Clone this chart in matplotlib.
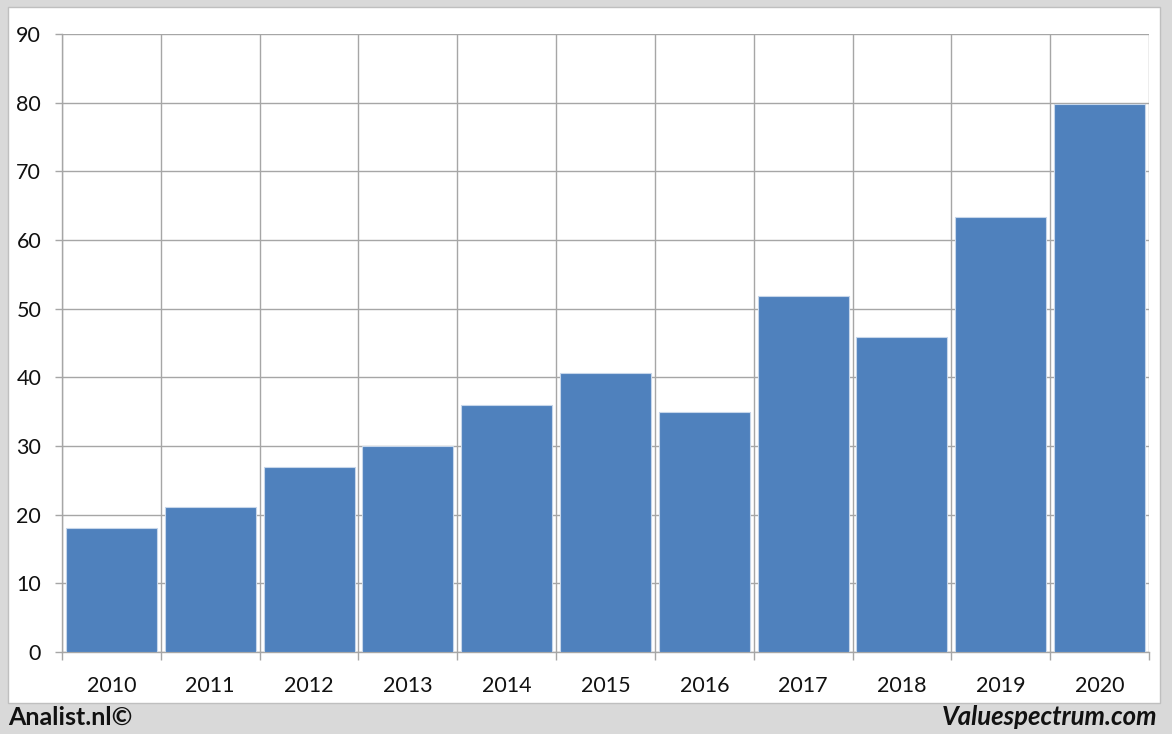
import matplotlib
matplotlib.use('Agg')
import matplotlib.pyplot as plt
import matplotlib.patches as patches
import numpy as np

years = ['2010', '2011', '2012', '2013', '2014', '2015', '2016', '2017', '2018', '2019', '2020']
values = [18.1, 21.1, 26.9, 30.0, 35.9, 40.6, 34.9, 51.9, 45.9, 63.4, 79.8]
y_ticks = [0, 10, 20, 30, 40, 50, 60, 70, 80, 90]

W, H = 1172, 734
fig = plt.figure(figsize=(W / 100, H / 100), dpi=100)
fig.patch.set_facecolor('#d9d9d9')

# white panel behind the chart
panel = patches.Rectangle((8 / W, 1 - 703 / H), (1160 - 8) / W, (703 - 7) / H,
                          transform=fig.transFigure, facecolor='white',
                          edgecolor='#bfbfbf', linewidth=1, zorder=-10)
fig.patches.append(panel)

# plot area (pixel coordinates)
left, right, top, bottom = 62, 1149, 34, 652
ax = fig.add_axes([left / W, 1 - bottom / H, (right - left) / W, (bottom - top) / H])
ax.set_facecolor('none')

x = np.arange(len(years))
ax.bar(x, values, width=0.92, color='#4f81bd', edgecolor='#c6d6ea', linewidth=0.8, zorder=3)

ax.set_xlim(-0.5, len(years) - 0.5)
ax.set_ylim(0, 90)
ax.set_yticks(y_ticks)
ax.set_xticks(x)
ax.set_xticklabels(years)
ax.set_xticks(np.arange(-0.5, len(years)), minor=True)

ax.grid(axis='y', which='major', color='#a6a6a6', linewidth=1, zorder=1)
ax.grid(axis='x', which='minor', color='#a6a6a6', linewidth=1, zorder=1)
ax.grid(axis='x', which='major', visible=False)

for s in ['top', 'right']:
    ax.spines[s].set_visible(False)
for s in ['left', 'bottom']:
    ax.spines[s].set_color('#a6a6a6')
    ax.spines[s].set_linewidth(1)

ax.tick_params(axis='x', which='major', length=0, pad=17, labelsize=15.5, labelcolor='#111111')
ax.tick_params(axis='x', which='minor', length=6, color='#a6a6a6', width=1, direction='out')
ax.tick_params(axis='y', which='major', length=5, color='#a6a6a6', width=1, pad=10,
               labelsize=15.5, labelcolor='#111111')
for lbl in ax.get_xticklabels() + ax.get_yticklabels():
    lbl.set_fontfamily('Lato')

fig.text(8 / W, 1 - 717 / H, 'Analist.nl©', ha='left', va='center', fontsize=18,
         fontweight='bold', family='Lato', color='#111111')
fig.text(1157 / W, 1 - 717 / H, 'Valuespectrum.com', ha='right', va='center', fontsize=18.5,
         fontweight='bold', style='italic', family='Lato', color='#111111')

fig.savefig('out.png', dpi=100)
